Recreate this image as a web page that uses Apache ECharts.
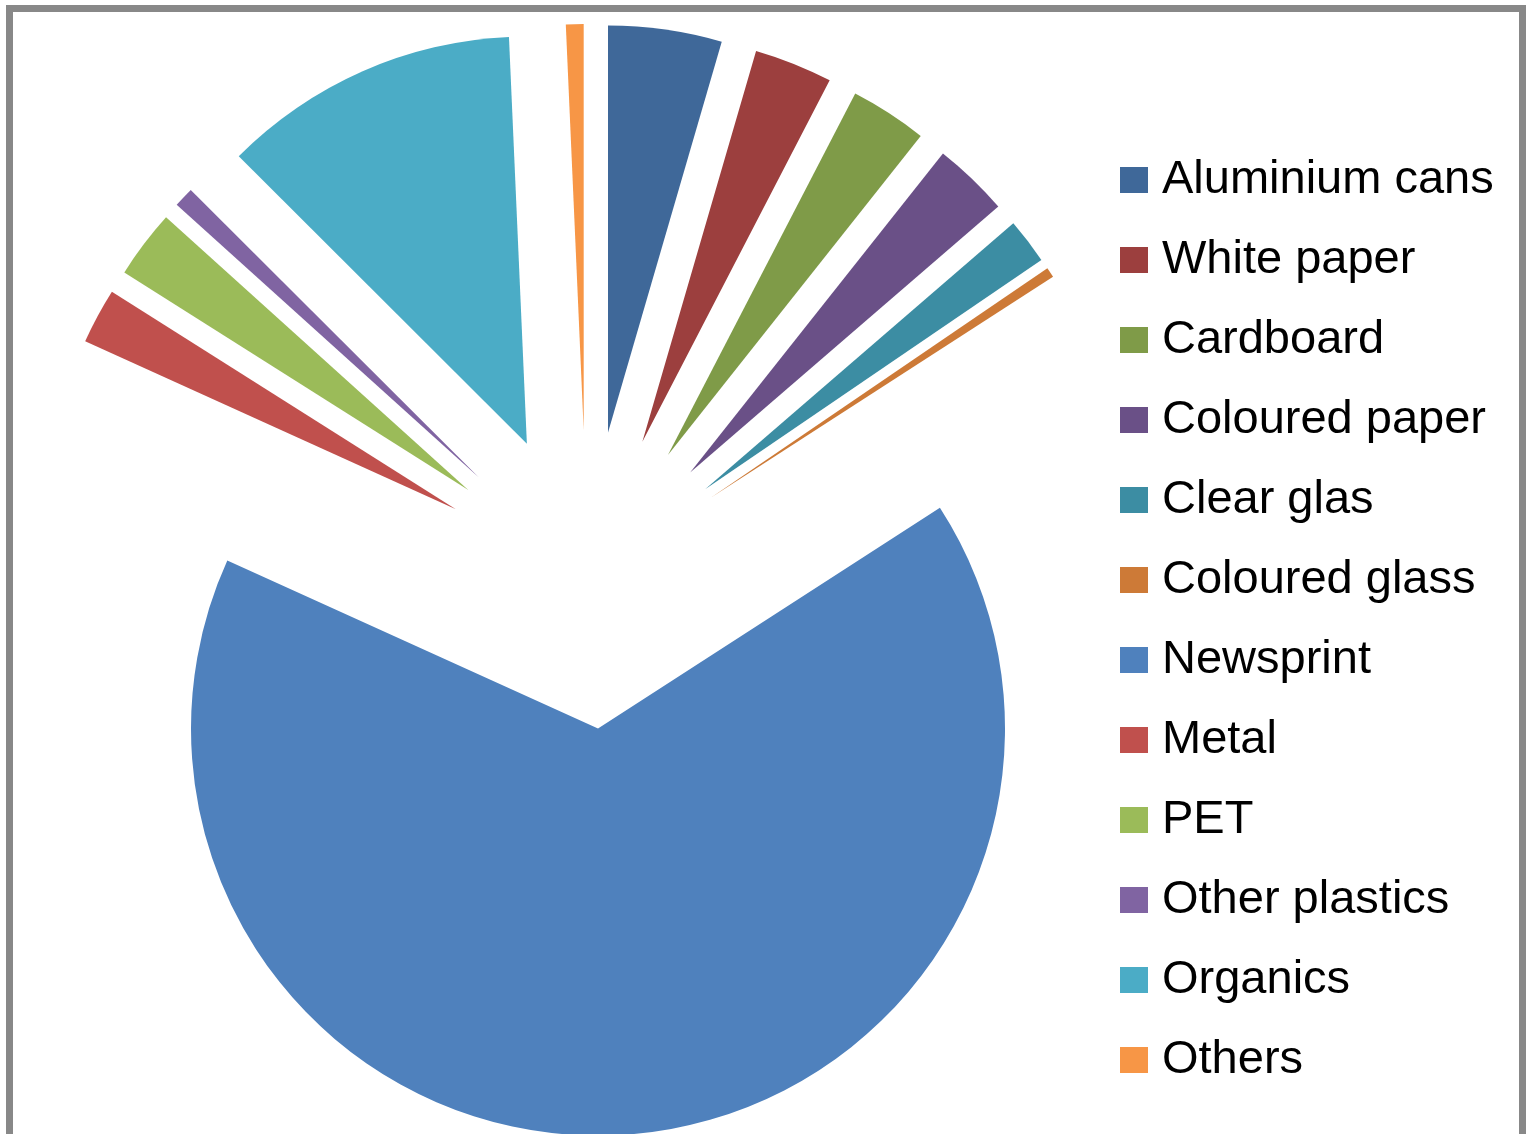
<!DOCTYPE html>
<html>
<head>
<meta charset="utf-8">
<script src="https://cdn.jsdelivr.net/npm/echarts@6/dist/echarts.min.js"></script>
<style>
  html, body { margin: 0; padding: 0; background: #ffffff; }
  #chart { width: 1526px; height: 1134px; }
</style>
</head>
<body>
<div id="chart"></div>
<script>
// ---- data (share of total, %) ----
const categories = ['Aluminium cans', 'White paper', 'Cardboard', 'Coloured paper', 'Clear glas', 'Coloured glass', 'Newsprint', 'Metal', 'PET', 'Other plastics', 'Organics', 'Others'];
const values = [4.5, 3.1, 3.05, 3.0, 1.8, 0.4, 65.8, 2.2, 2.7, 0.8, 11.8, 0.7];

// ---- styling ----
const colors = ['#3F6899', '#9C3F3E', '#7F9B48', '#6A5087', '#3C8DA3', '#CD7A37', '#4F81BD', '#C0504D', '#9BBB59', '#8064A2', '#4BACC6', '#F79646'];

const chart = echarts.init(document.getElementById('chart'), null, { renderer: 'canvas' });

const seriesData = categories.map((name, i) => ({
  name: name,
  value: values[i],
  selected: true,
  itemStyle: { color: colors[i] },
  select: { itemStyle: { color: colors[i], borderWidth: 0 } }
}));

chart.setOption({
  animation: false,
  backgroundColor: '#ffffff',
  color: colors,
  graphic: [{
    type: 'rect',
    shape: { x: 9.5, y: 8.5, width: 1513, height: 1300 },
    style: { fill: 'none', stroke: '#888888', lineWidth: 7 },
    silent: true
  }],
  legend: {
    orient: 'vertical',
    left: 1120,
    top: 155,
    padding: 0,
    itemWidth: 28,
    itemHeight: 26,
    itemGap: 30,
    icon: 'rect',
    selectedMode: false,
    data: categories,
    textStyle: {
      fontFamily: '"Liberation Sans", Arial, sans-serif',
      fontSize: 47,
      lineHeight: 50,
      color: '#000000',
      padding: [0, 0, 0, 9]
    }
  },
  series: [{
    type: 'pie',
    center: [587, 580],
    radius: [0, 407],
    startAngle: 90,
    clockwise: true,
    selectedMode: 'multiple',
    selectedOffset: 149,
    avoidLabelOverlap: false,
    label: { show: false },
    labelLine: { show: false },
    emphasis: { disabled: true, scale: false },
    itemStyle: { borderWidth: 0 },
    data: seriesData
  }]
});
</script>
</body>
</html>
